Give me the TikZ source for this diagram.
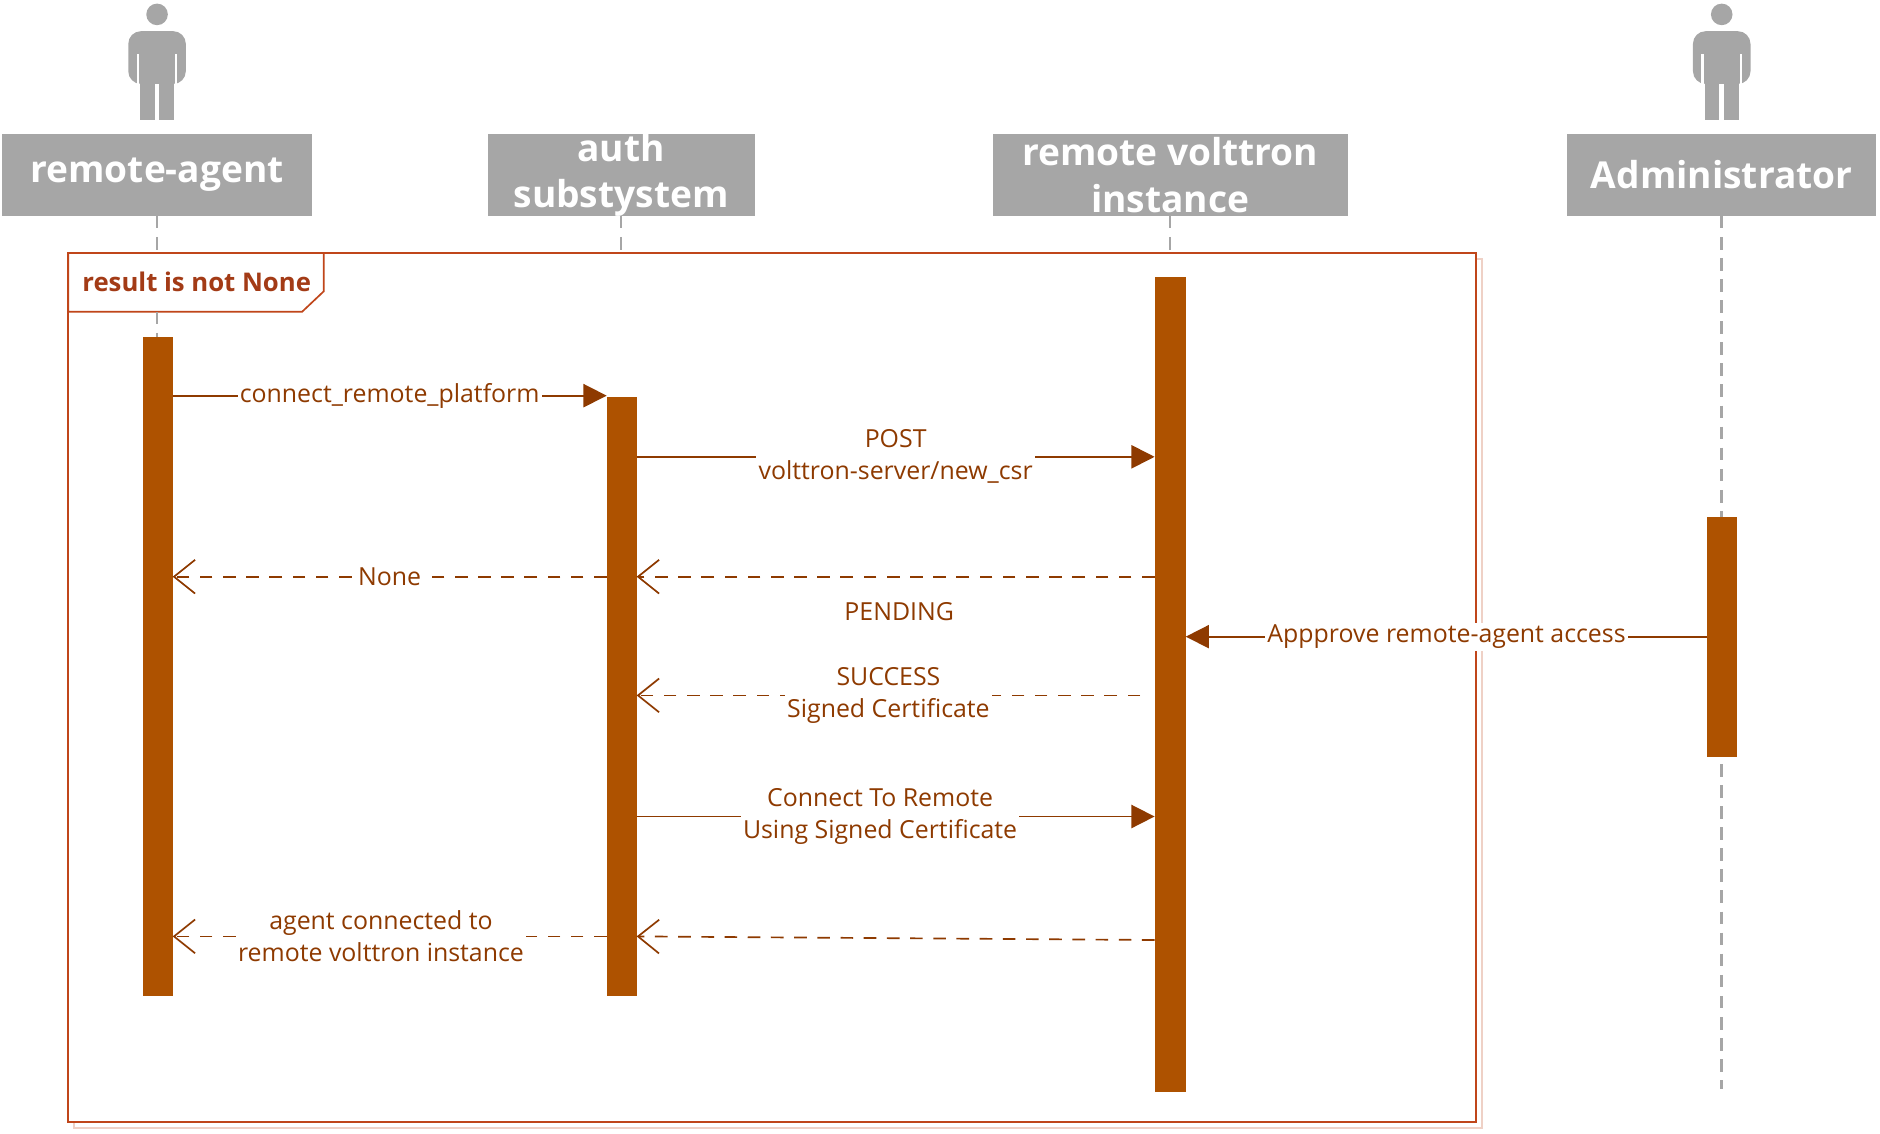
\documentclass[tikz,border=0pt]{standalone}
\usepackage{fontspec}
\setmainfont{Open Sans}
\usetikzlibrary{arrows.meta,positioning}
\definecolor{hdr}{HTML}{A6A6A6}
\definecolor{bar}{HTML}{AE5200}
\definecolor{msg}{HTML}{8E3A00}
\definecolor{frm}{HTML}{C0461A}
\tikzset{
  head/.style={text=white, font=\fontsize{8.8}{11}\selectfont\bfseries, align=center, inner sep=0pt},
  life/.style={hdr, dashed, dash pattern=on 3pt off 2pt, semithick},
  act/.style={fill=bar, draw=none},
  call/.style={msg, thin, -{Triangle[length=5.5pt,width=5.5pt]}},
  back/.style={msg, thin, dashed, dash pattern=on 3pt off 2.5pt, -{Straight Barb[length=5pt,width=8pt,open]}},
  lbl/.style={text=msg, font=\fontsize{5.9}{7.6}\selectfont, fill=white, align=center, inner sep=0.5pt}
}
\newcommand{\actor}[1]{%
  \fill[hdr] (#1,12) circle (9);
  \fill[hdr, rounded corners=3] (#1-24,26) rectangle (#1+24,70);
  \fill[hdr] (#1-14,60) rectangle (#1-2,100);
  \fill[hdr] (#1+2,60) rectangle (#1+14,100);
  \fill[white] (#1-17,45) rectangle (#1-15,70);
  \fill[white] (#1+15,45) rectangle (#1+17,70);
}
\begin{document}
\begin{tikzpicture}[x=0.01cm, y=-0.01cm]
\useasboundingbox (0,0) rectangle (1568,945);

% actors
\actor{131}
\actor{1436}

% lifelines
\draw[life] (131,180) -- (131,908);
\draw[life] (518,180) -- (518,908);
\draw[life] (976,180) -- (976,908);
\draw[life] (1436,180) -- (1436,908);

% headers
\fill[hdr] (2,112) rectangle (260,180);
\fill[hdr] (407,112) rectangle (630,180);
\fill[hdr] (828,112) rectangle (1124,180);
\fill[hdr] (1307,112) rectangle (1565,180);
\node[head] (agent) at (131,146) {remote-agent};
\node[head] (auth) at (518,146) {auth\\substystem};
\node[head] (vip) at (976,146) {remote volttron\\instance};
\node[head] (admin) at (1436,146) {Administrator};

% frame
\draw[frm!25] (62,216) rectangle (1236,941);
\draw[frm, fill=white] (57,211) rectangle (1231,936);
\draw[frm, fill=white] (57,211) -- (270,211) -- (270,243) -- (252,260) -- (57,260) -- cycle;
\node[text=frm!85!black, font=\fontsize{6.1}{7}\selectfont\bfseries, anchor=west, inner sep=0pt] (cond) at (68,235) {result is not None};

% activations
\draw[life] (131,260) -- (131,281);
\fill[act] (119,281) rectangle (144,831);
\fill[act] (506,331) rectangle (531,831);
\fill[act] (963,231) rectangle (989,911);
\fill[act] (1424,431) rectangle (1449,631);

% messages
\coordinate (a1) at (144,330); \coordinate (b1) at (506,330);
\draw[call] (a1) -- (b1) node[lbl, pos=0.5] {connect\_remote\_platform};
\coordinate (a2) at (531,381); \coordinate (c2) at (963,381);
\draw[call] (a2) -- (c2) node[lbl, pos=0.5] {POST\\volttron-server/new\_csr};
\coordinate (c3) at (963,481); \coordinate (b3) at (531,481);
\draw[back] (c3) -- (b3);
\coordinate (b4) at (506,481); \coordinate (a4) at (144,481);
\draw[back] (b4) -- (a4) node[lbl, pos=0.5] {None};
\node[lbl] (pend) at (750,510) {PENDING};
\coordinate (d5) at (1424,531); \coordinate (c5) at (989,531);
\draw[call] (d5) -- (c5) node[lbl, pos=0.5] {Appprove remote-agent access};
\coordinate (c6) at (951,580); \coordinate (b6) at (531,580);
\draw[back] (c6) -- (b6) node[lbl, pos=0.5] {SUCCESS\\Signed Certificate};
\coordinate (b7) at (531,681); \coordinate (c7) at (963,681);
\draw[call] (b7) -- (c7) node[lbl, pos=0.47] {Connect To Remote\\Using Signed Certificate};
\coordinate (c8) at (963,784); \coordinate (b8) at (531,781);
\draw[back] (c8) -- (b8);
\coordinate (b9) at (506,781); \coordinate (a9) at (144,781);
\draw[back] (b9) -- (a9) node[lbl, pos=0.52] {agent connected to\\remote volttron instance};
\end{tikzpicture}
\end{document}
